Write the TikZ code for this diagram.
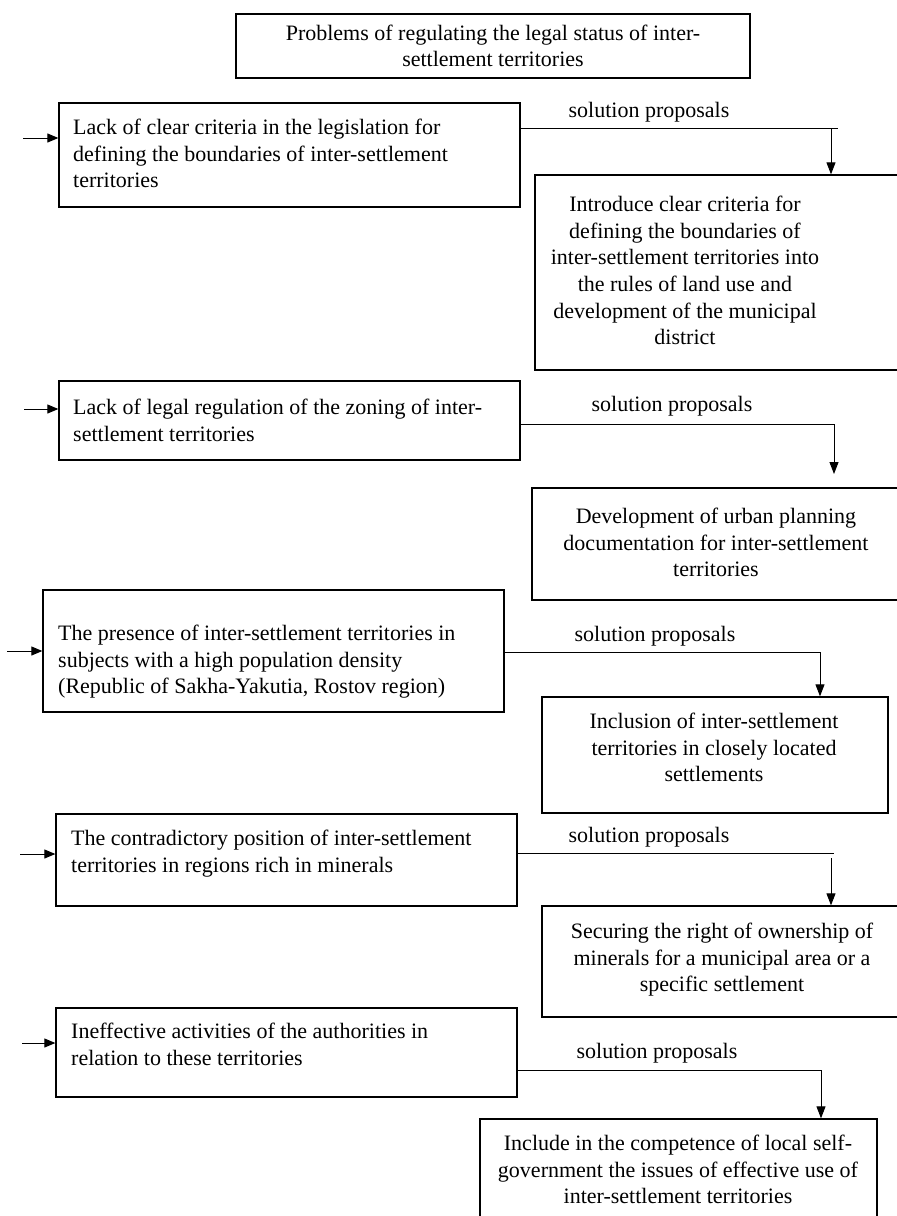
\documentclass[tikz,border=0pt]{standalone}
\usepackage{fontspec}
\setmainfont{Liberation Serif}
\usetikzlibrary{arrows.meta}
\begin{document}
\begin{tikzpicture}[x=1pt,y=-1pt,
  box/.style={draw,line width=1.3pt,inner sep=0pt},
  txt/.style={inner sep=0pt,font=\fontsize{22}{26.6}\selectfont,execute at begin node=\strut},
  lbl/.style={inner sep=0pt,font=\fontsize{22}{26.6}\selectfont},
  conn/.style={line width=1pt},
  arr/.style={line width=1pt,-{Triangle[length=12pt,width=9pt]}},
  inarr/.style={line width=1pt,-{Triangle[length=11pt,width=9pt]}}]
\useasboundingbox (0,0) rectangle (897,1216);
\clip (0,0) rectangle (897,1216);
\fill[white] (0,0) rectangle (897,1216);

% title
\node[box,minimum width=514pt,minimum height=64pt,align=center,font=\fontsize{22}{26.6}\selectfont] (t0) at (493,46) {Problems of regulating the legal status of inter-\\settlement territories};

% left boxes
\node[box,minimum width=461pt,minimum height=104pt] (p1) at (289.5,155) {};
\node[box,minimum width=461pt,minimum height=79pt] (p2) at (289.5,420.5) {};
\node[box,minimum width=461pt,minimum height=122pt] (p3) at (273.5,651) {};
\node[box,minimum width=461pt,minimum height=92pt] (p4) at (286.5,860) {};
\node[box,minimum width=461pt,minimum height=89pt] (p5) at (286.5,1052.5) {};

\node[txt,anchor=north west,align=left] (tp1) at (73,119) {Lack of clear criteria in the legislation for\\defining the boundaries of inter-settlement\\territories};
\node[txt,anchor=north west,align=left] (tp2) at (73,399) {Lack of legal regulation of the zoning of inter-\\settlement territories};
\node[txt,anchor=north west,align=left] (tp3) at (58,625) {The presence of inter-settlement territories in\\subjects with a high population density\\(Republic of Sakha-Yakutia, Rostov region)};
\node[txt,anchor=north west,align=left] (tp4) at (71,830) {The contradictory position of inter-settlement\\territories in regions rich in minerals};
\node[txt,anchor=north west,align=left] (tp5) at (71,1023) {Ineffective activities of the authorities in\\relation to these territories};

% right boxes
\node[box,minimum width=375pt,minimum height=195pt] (s1) at (722.5,272.5) {};
\node[box,minimum width=378pt,minimum height=112pt] (s2) at (721,544) {};
\node[box,minimum width=346pt,minimum height=116pt] (s3) at (715,755) {};
\node[box,minimum width=368pt,minimum height=111pt] (s4) at (726,961.5) {};
\node[box,minimum width=397pt,minimum height=116pt] (s5) at (678.5,1177) {};

\node[txt,anchor=north,align=center] (ts1) at (685,196) {Introduce clear criteria for\\defining the boundaries of\\inter-settlement territories into\\the rules of land use and\\development of the municipal\\district};
\node[txt,anchor=north,align=center] (ts2) at (716,508) {Development of urban planning\\documentation for inter-settlement\\territories};
\node[txt,anchor=north,align=center] (ts3) at (714,713) {Inclusion of inter-settlement\\territories in closely located\\settlements};
\node[txt,anchor=north,align=center] (ts4) at (722,923) {Securing the right of ownership of\\minerals for a municipal area or a\\specific settlement};
\node[txt,anchor=north,align=center] (ts5) at (678,1135) {Include in the competence of local self-\\government the issues of effective use of\\inter-settlement territories};

% labels
\node[lbl] (l1) at (649,112) {solution proposals};
\node[lbl] (l2) at (672,406) {solution proposals};
\node[lbl] (l3) at (655,636) {solution proposals};
\node[lbl] (l4) at (649,837) {solution proposals};
\node[lbl] (l5) at (657,1053) {solution proposals};

% entry arrows
\coordinate (e1) at (23,138);
\coordinate (e2) at (24,409);
\coordinate (e3) at (7,651);
\coordinate (e4) at (20,854);
\coordinate (e5) at (22,1043);
\draw[inarr] (e1) -- (e1 -| p1.west);
\draw[inarr] (e2) -- (e2 -| p2.west);
\draw[inarr] (e3) -- (e3 -| p3.west);
\draw[inarr] (e4) -- (e4 -| p4.west);
\draw[inarr] (e5) -- (e5 -| p5.west);

% connectors
\coordinate (c1) at (838,128);
\coordinate (d1) at (831,128);
\draw[conn] (c1 -| p1.east) -- (c1);
\draw[arr] (d1) -- (d1 |- s1.north);

\coordinate (c2) at (834,424);
\coordinate (f2) at (834,474);
\draw[arr] (c2 -| p2.east) -- (c2) -- (f2);

\coordinate (c3) at (820,652);
\draw[arr] (c3 -| p3.east) -- (c3) -- (c3 |- s3.north);

\coordinate (c4) at (834,853);
\coordinate (d4) at (831,858);
\draw[conn] (c4 -| p4.east) -- (c4);
\draw[arr] (d4) -- (d4 |- s4.north);

\coordinate (c5) at (821,1070);
\draw[arr] (c5 -| p5.east) -- (c5) -- (c5 |- s5.north);
\end{tikzpicture}
\end{document}
